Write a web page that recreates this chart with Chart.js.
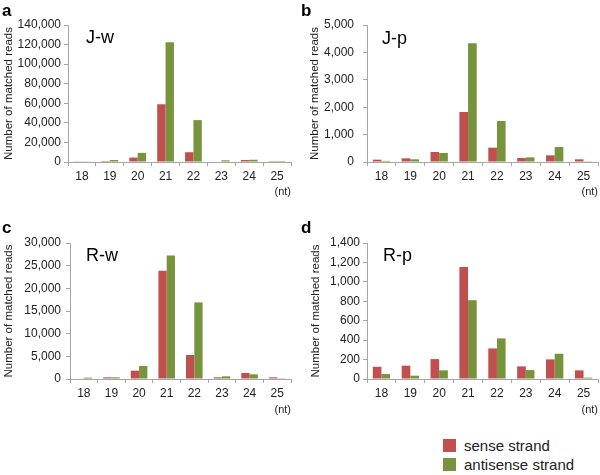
<!DOCTYPE html>
<html>
<head>
<meta charset="utf-8">
<script src="https://cdn.jsdelivr.net/npm/chart.js@4"></script>
<style>
  body { margin: 0; background: #fff; font-family: "Liberation Sans", Arial, sans-serif; }
  #wrap { position: relative; width: 600px; height: 475px; overflow: hidden; }
  canvas { position: absolute; }
  .lbl { position: absolute; font-weight: bold; font-size: 17px; color: #000; line-height: 1; }
  .ttl { position: absolute; font-size: 18px; color: #000; line-height: 1; }
  .sw { position: absolute; width: 13px; height: 13px; }
  .lg { position: absolute; font-size: 15px; color: #222; line-height: 1; }
</style>
</head>
<body>
<div id="wrap">
  <canvas id="cA" width="300" height="200" style="left:0;top:0"></canvas>
  <canvas id="cB" width="300" height="200" style="left:300px;top:0"></canvas>
  <canvas id="cC" width="300" height="220" style="left:0;top:200px"></canvas>
  <canvas id="cD" width="300" height="220" style="left:300px;top:200px"></canvas>

  <div class="lbl" style="left:2px;top:2px">a</div>
  <div class="lbl" style="left:301px;top:2px">b</div>
  <div class="lbl" style="left:2px;top:219px">c</div>
  <div class="lbl" style="left:301px;top:219px">d</div>

  <div class="ttl" style="left:86px;top:28px">J-w</div>
  <div class="ttl" style="left:382px;top:29px">J-p</div>
  <div class="ttl" style="left:86px;top:246px">R-w</div>
  <div class="ttl" style="left:383px;top:246px">R-p</div>

  <div class="sw" style="left:443px;top:439px;background:#c0504d"></div>
  <div class="lg" style="left:464px;top:438px">sense strand</div>
  <div class="sw" style="left:443px;top:458px;background:#77933c"></div>
  <div class="lg" style="left:464px;top:457px">antisense strand</div>
</div>
<script>
// small RNA sizes (nt)
const sizes = ["18", "19", "20", "21", "22", "23", "24", "25"];

// a: J-w
const jwSense = [300, 1000, 4500, 59000, 10000, 500, 2000, 100];
const jwAnti = [700, 2000, 9300, 122300, 42800, 1700, 2300, 50];
// b: J-p
const jpSense = [85, 134, 365, 1825, 522, 146, 243, 97];
const jpAnti = [40, 97, 330, 4330, 1496, 170, 548, 10];
// c: R-w
const rwSense = [100, 370, 1840, 23900, 5290, 370, 1320, 370];
const rwAnti = [300, 370, 2870, 27250, 16900, 590, 1030, 50];
// d: R-p
const rpSense = [126, 137, 205, 1153, 315, 130, 202, 89];
const rpAnti = [51, 34, 89, 811, 418, 92, 260, 14];

const FONT = "'Liberation Sans', Arial, sans-serif";
const RED = "#c0504d";
const GREEN = "#77933c";
const AXIS = "#a6a6a6";

function makeChart(id, sense, anti, yMax, yStep, cfg) {
  const ctx = document.getElementById(id).getContext("2d");
  return new Chart(ctx, {
    type: "bar",
    data: {
      labels: sizes,
      datasets: [
        { label: "sense strand", data: sense, backgroundColor: RED },
        { label: "antisense strand", data: anti, backgroundColor: GREEN }
      ]
    },
    options: {
      responsive: false,
      animation: false,
      devicePixelRatio: 1,
      categoryPercentage: 0.6,
      barPercentage: 1,
      layout: { padding: { top: cfg.top, right: cfg.right, left: 0, bottom: 0 } },
      plugins: { legend: { display: false }, tooltip: { enabled: false } },
      scales: {
        x: {
          grid: { display: true, drawOnChartArea: false, tickLength: 4, color: AXIS },
          border: { color: AXIS },
          ticks: { color: "#222", font: { family: FONT, size: 12 }, padding: 3, maxRotation: 0 },
          title: { display: true, text: "(nt)", align: "end", color: "#222",
                   font: { family: FONT, size: 11 }, padding: { top: 0, bottom: cfg.ntPad } },
          afterFit: s => { s.height = cfg.xh; }
        },
        y: {
          min: 0, max: yMax,
          grid: { display: true, drawOnChartArea: false, tickLength: 4, color: AXIS },
          border: { color: AXIS },
          ticks: { stepSize: yStep, color: "#222", font: { family: FONT, size: 12 }, padding: cfg.tp,
                   callback: v => v.toLocaleString("en-US") },
          title: { display: true, text: "Number of matched reads", color: "#222",
                   font: { family: FONT, size: 11.5 }, padding: { top: cfg.titlePad, bottom: 0 } },
          afterFit: s => { s.width = cfg.yw; }
        }
      }
    }
  });
}

makeChart("cA", jwSense, jwAnti, 140000, 20000, { top: 25, right: 9, xh: 38, ntPad: 1, yw: 68, tp: 3, titlePad: 2 });
makeChart("cB", jpSense, jpAnti, 5000, 1000, { top: 25, right: 2, xh: 38, ntPad: 1, yw: 67, tp: 9, titlePad: 8 });
makeChart("cC", rwSense, rwAnti, 30000, 5000, { top: 43, right: 9, xh: 41, ntPad: 3, yw: 70, tp: 5, titlePad: 2 });
makeChart("cD", rpSense, rpAnti, 1400, 200, { top: 43, right: 2, xh: 41, ntPad: 3, yw: 67, tp: 3, titlePad: 9 });
</script>
</body>
</html>
